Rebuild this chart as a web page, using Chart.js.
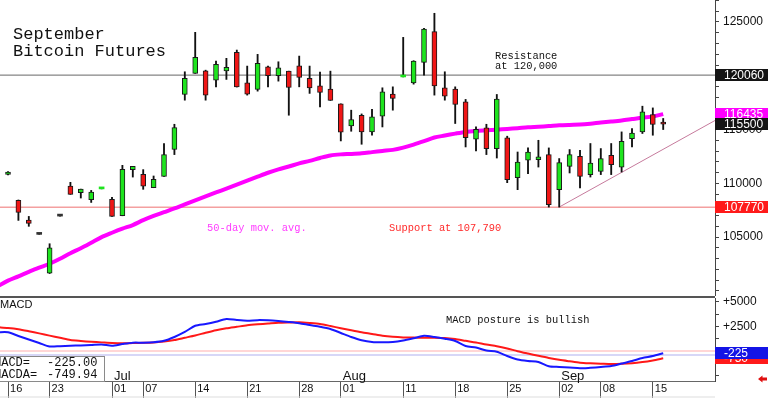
<!DOCTYPE html>
<html><head><meta charset="utf-8">
<script src="https://cdn.jsdelivr.net/npm/chart.js@4/dist/chart.umd.min.js"></script>
<style>
html,body{margin:0;padding:0;background:#fff;width:768px;height:398px;overflow:hidden;}
#c1{position:absolute;left:0;top:0;}
#c2{position:absolute;left:0;top:296px;}
</style></head><body>
<canvas id="c1" width="768" height="296"></canvas>
<canvas id="c2" width="768" height="102"></canvas>
<script>
// ---------- DATA ----------
const dates = ['Jun 13',
 'Jun 16','Jun 17','Jun 18','Jun 20','Jun 23','Jun 24','Jun 25','Jun 26','Jun 27','Jun 30',
 'Jul 01','Jul 02','Jul 03','Jul 07','Jul 08','Jul 09','Jul 10','Jul 11','Jul 14','Jul 15',
 'Jul 16','Jul 17','Jul 18','Jul 21','Jul 22','Jul 23','Jul 24','Jul 25','Jul 28','Jul 29',
 'Jul 30','Jul 31','Aug 01','Aug 04','Aug 05','Aug 06','Aug 07','Aug 08','Aug 11','Aug 12',
 'Aug 13','Aug 14','Aug 15','Aug 18','Aug 19','Aug 20','Aug 21','Aug 22','Aug 25','Aug 26',
 'Aug 27','Aug 28','Aug 29','Sep 02','Sep 03','Sep 04','Sep 05','Sep 08','Sep 09','Sep 10',
 'Sep 11','Sep 12','Sep 15','Sep 16'];
const futureDates = ['Sep 17','Sep 18','Sep 19','Sep 22','Sep 23'];

const opens = [null,
 110830,108410,106590,105250,101640,106950,109740,109130,108480,109480,
 108500,106980,111270,110830,109590,110650,113140,118260,120220,120460,
 119590,120460,122180,119340,118730,120830,120000,120430,120930,119750,
 119060,118760,117390,115340,116330,114780,116240,118290,119890,119340,
 121240,124100,118880,118760,117570,114100,115150,113230,114220,110530,
 112140,112200,112670,109410,111580,112510,110810,111110,112600,111510,
 114160,114780,116400,115700];
const highs = [null,
 111100,108450,106920,105250,104380,106950,110090,109460,109340,109510,
 108690,111670,111580,111270,110680,113700,115490,120370,124040,120520,
 121370,121620,122390,120900,121990,120900,121300,120430,121830,120900,
 120340,120430,117390,116800,116450,116890,118880,118970,123570,121400,
 124410,125810,120370,118970,117800,115240,115490,118260,114380,112910,
 113290,114000,113290,112300,113140,113070,113700,113230,113700,114780,
 115090,117170,117010,116030];
const lows = [null,
 110780,106550,106000,105250,101610,106950,108970,108630,108220,109480,
 106920,106980,110580,109440,109590,110650,112670,117730,120220,117730,
 118970,119660,118950,118200,118570,118970,119500,116330,118970,118360,
 117110,117700,113940,114840,113630,114470,115240,116800,119890,119220,
 120060,118200,117730,115560,113380,113000,112670,112350,110060,109410,
 110900,111510,107790,107790,110960,109560,110580,110810,110810,111050,
 113380,114630,114470,115000];
const closes = [null,
 111050,107290,106270,105250,104000,106950,108970,109460,109180,109510,
 106920,111300,111580,109740,110370,112670,115190,119750,121710,118200,
 121060,120780,118970,118290,121150,120000,120740,118910,119850,118880,
 118450,117700,114750,115930,114780,116170,118500,117890,119910,121370,
 124350,119060,118100,117330,114250,115030,113230,117820,110340,111980,
 112910,112450,108010,111920,112670,110650,111890,112300,111740,113910,
 114680,116640,115470,115500];
const ma50 = [
 100420,100950,101350,101770,102150,102520,102980,103500,103960,104470,
 104990,105400,105780,106120,106570,106960,107310,107660,108040,108410,
 108780,109150,109510,109880,110250,110620,110980,111290,111560,111850,
 112080,112350,112590,112690,112730,112790,112900,113010,113110,113320,
 113600,113920,114260,114440,114620,114780,114870,114930,114990,115060,
 115130,115210,115260,115320,115390,115430,115460,115540,115650,115740,
 115840,115970,116100,116200,116435];
const macd = [
 1910,1910,1530,1170,820,460,490,530,570,610,
 660,540,710,850,850,890,1040,1430,1940,2580,
 2760,2990,3270,3160,3090,3150,3130,3060,2960,2840,
 2650,2480,2250,1840,1430,1100,920,890,920,1070,
 1300,1550,1430,1250,1020,510,350,50,-70,-510,
 -860,-1020,-1120,-1560,-1630,-1690,-1770,-1710,-1630,-1530,
 -1280,-1020,-710,-510,-225.00];
const macdAvg = [
 2430,2350,2220,2020,1800,1570,1350,1120,1020,940,
 880,820,790,810,830,870,970,1120,1350,1580,
 1860,2120,2320,2470,2620,2720,2800,2880,2910,2930,
 2860,2760,2550,2320,2110,1910,1740,1560,1450,1390,
 1370,1360,1360,1330,1220,1040,870,660,490,260,
 -20,-260,-490,-710,-900,-1050,-1190,-1250,-1290,-1330,
 -1310,-1250,-1130,-960,-749.94];

const resistanceLevel = 120060;
const supportLevel = 107770;
const trendDates = ['Sep 02','Sep 23'];
const trendValues = [107790, 115850];
const macdZeroLevel = 0;
const macdGuideLevel = -410;

const priceAxisTicks = [];
for (let v = 100000; v <= 127000; v += 1000) priceAxisTicks.push(v);
const priceTickLabels = [105000,110000,115000,120000,125000];
const macdAxisTicks = [5000,3750,2500,1250,0,-1250,-2500];
const macdTickLabels = {5000:'+5000', 2500:'+2500'};
const dayTickDates = ['Jun 16','Jun 23','Jul 01','Jul 07','Jul 14','Jul 21','Jul 28','Aug 01','Aug 11','Aug 18','Aug 25','Sep 02','Sep 08','Sep 15'];
const dayTickLabels = ['16','23','01','07','14','21','28','01','11','18','25','02','08','15'];
const monthDates = ['Jul 01','Aug 01','Sep 02'];
const monthLabels = ['Jul','Aug','Sep'];

const titleLines = ['September','Bitcoin Futures'];
const resistanceNote = ['Resistance','at 120,000'];
const maNote = '50-day mov. avg.';
const supportNote = 'Support at 107,790';
const postureNote = 'MACD posture is bullish';

// ---------- BUILD ----------
const allDates = dates.concat(futureDates);
const idx = d => allDates.indexOf(d);
const X_MIN = 0.23, X_MAX = 68.98;
const P_MIN = 99520, P_MAX = 127045;
const M_MIN = -3061, M_MAX = 5408;

const UP = '#1ee41e', DOWN = '#f01616', FLAT = '#333333';
const bodyData = [], wickData = [];
dates.forEach((d, j) => {
  if (opens[j] == null) return;
  bodyData.push({x: j, y: [opens[j], closes[j]]});
  wickData.push({x: j, y: [lows[j], highs[j]]});
});
const maData = ma50.map((v, j) => ({x: j, y: v}));
const trendData = trendDates.map((d, k) => ({x: idx(d), y: trendValues[k]}));
const hline = v => [{x: X_MIN, y: v}, {x: X_MAX + 1, y: v}];
const macdData = macd.map((v, j) => ({x: j, y: v}));
const avgData = macdAvg.map((v, j) => ({x: j, y: v}));

const lastClose = closes[closes.length - 1];
const lastMA = ma50[ma50.length - 1];
const lastMacd = macd[macd.length - 1];
const lastAvg = macdAvg[macdAvg.length - 1];

Chart.defaults.font.family = '"Liberation Sans", Arial, sans-serif';

function flag(ctx, x0, w, py, txt, bg) {
  const yy = Math.round(py);
  ctx.fillStyle = bg;
  ctx.fillRect(x0, yy - 6, w, 12);
  ctx.fillStyle = '#fff';
  ctx.font = '12px "Liberation Sans"';
  ctx.textAlign = 'left';
  ctx.textBaseline = 'middle';
  ctx.fillText(txt, x0 + 9, yy + 0.5);
}

const topDecor = {
  id: 'topDecor',
  afterDraw(chart) {
    const {ctx, chartArea: ca} = chart;
    const y = chart.scales.y;
    ctx.save();
    ctx.textAlign = 'left';
    ctx.textBaseline = 'alphabetic';
    ctx.fillStyle = '#111';
    ctx.font = '17px "Liberation Mono"';
    ctx.fillText(titleLines[0], 13, 38.5);
    ctx.fillText(titleLines[1], 13, 56);
    ctx.font = '10.4px "Liberation Mono"';
    ctx.fillText(resistanceNote[0], 495, 58.5);
    ctx.fillText(resistanceNote[1], 495, 68.5);
    ctx.fillStyle = '#ff3cff';
    ctx.fillText(maNote, 207, 230.5);
    ctx.fillStyle = '#ff2a2a';
    ctx.fillText(supportNote, 389, 230.5);
    const w = chart.width - ca.right;
    flag(ctx, ca.right, w, y.getPixelForValue(resistanceLevel), String(resistanceLevel), '#141414');
    flag(ctx, ca.right, w, y.getPixelForValue(lastMA), String(lastMA), '#ff00ff');
    flag(ctx, ca.right, w, y.getPixelForValue(lastClose), String(lastClose), '#141414');
    flag(ctx, ca.right, w, y.getPixelForValue(supportLevel), String(supportLevel), '#ff1a1a');
    ctx.restore();
  }
};

new Chart(document.getElementById('c1'), {
  type: 'line',
  data: { datasets: [
    { type: 'bar', label: 'Body', data: bodyData, stack: 'candle', barThickness: 5, minBarLength: 2,
      borderSkipped: false, borderColor: '#1a1a1a',
      backgroundColor: c => { const v = c.raw.y; return v[1] > v[0] ? UP : (v[1] < v[0] ? DOWN : FLAT); },
      borderWidth: c => Math.abs(c.raw.y[1] - c.raw.y[0]) < 100 ? 0 : 1,
      order: 1 },
    { type: 'bar', label: 'Wick', data: wickData, stack: 'candle', barThickness: 1.2,
      backgroundColor: '#111', borderWidth: 0, order: 2 },
    { type: 'line', label: '50-day', data: maData, borderColor: '#ff00ff', borderWidth: 4,
      pointRadius: 0, tension: 0.3, order: 3 },
    { type: 'line', label: 'Trend', data: trendData, borderColor: '#c67a9c', borderWidth: 1,
      pointRadius: 0, order: 4 },
    { type: 'line', label: 'Resistance', data: hline(resistanceLevel), borderColor: '#666', borderWidth: 1,
      pointRadius: 0, order: 5 },
    { type: 'line', label: 'Support', data: hline(supportLevel), borderColor: '#f4a0a0', borderWidth: 1.5,
      pointRadius: 0, order: 6 }
  ]},
  options: {
    responsive: false, animation: false, devicePixelRatio: 1,
    layout: { padding: 0, autoPadding: false },
    plugins: { legend: { display: false }, tooltip: { enabled: false } },
    scales: {
      x: { type: 'linear', min: X_MIN, max: X_MAX, offset: false, display: false },
      y: { type: 'linear', position: 'right', min: P_MIN, max: P_MAX, stacked: false,
        afterBuildTicks: s => { s.ticks = priceAxisTicks.map(v => ({ value: v })); },
        afterFit: s => { s.width = 53; s.paddingTop = 0; s.paddingBottom = 0; },
        grid: { drawOnChartArea: false, drawTicks: true, tickLength: 4, color: '#444' },
        border: { display: true, color: '#444' },
        ticks: { autoSkip: false, padding: 4, color: '#111',
          font: { size: 12 }, callback: v => priceTickLabels.includes(v) ? String(v) : '' }
      }
    }
  },
  plugins: [topDecor]
});

const macdDecor = {
  id: 'macdDecor',
  afterDraw(chart) {
    const {ctx, chartArea: ca} = chart;
    const x = chart.scales.x, y = chart.scales.y;
    ctx.save();
    ctx.fillStyle = '#555';
    ctx.fillRect(0, 0, ca.right, 2);
    ctx.fillStyle = '#111';
    ctx.textAlign = 'left';
    ctx.textBaseline = 'middle';
    ctx.font = '11px "Liberation Sans"';
    ctx.fillText('MACD', 0, 9);
    ctx.font = '10.4px "Liberation Mono"';
    ctx.textBaseline = 'alphabetic';
    ctx.fillText(postureNote, 446, 27);
    ctx.font = '13px "Liberation Sans"';
    ctx.textBaseline = 'middle';
    monthDates.forEach((d, k) => ctx.fillText(monthLabels[k], x.getPixelForValue(idx(d)) + 2, 80.5));
    // legend box
    ctx.fillStyle = '#fff';
    ctx.fillRect(-1, 60.5, 105.5, 24.5);
    ctx.strokeStyle = '#8a8a8a';
    ctx.lineWidth = 1;
    ctx.strokeRect(-0.5, 60.5, 105, 25);
    ctx.fillStyle = '#111';
    ctx.font = '12px "Liberation Mono"';
    ctx.fillText('MACD=', -6, 67);
    ctx.fillText(lastMacd.toFixed(2), 47, 67);
    ctx.fillText('MACDA=', -6, 79);
    ctx.fillText(lastAvg.toFixed(2), 47, 79);
    // right flags
    const w = chart.width - ca.right;
    flag(ctx, ca.right, w, y.getPixelForValue(lastAvg), String(Math.round(lastAvg)), '#ff1a1a');
    flag(ctx, ca.right, w, y.getPixelForValue(lastMacd), String(Math.round(lastMacd)), '#1414e6');
    // bottom line
    ctx.fillStyle = '#dddddd';
    ctx.fillRect(0, 100.5, ca.right, 1);
    // red arrow
    ctx.fillStyle = '#e01010';
    ctx.beginPath();
    ctx.moveTo(758, 83);
    ctx.lineTo(762.5, 79.5);
    ctx.lineTo(762.5, 81.5);
    ctx.lineTo(767, 81.5);
    ctx.lineTo(767, 84.5);
    ctx.lineTo(762.5, 84.5);
    ctx.lineTo(762.5, 86.5);
    ctx.closePath();
    ctx.fill();
    ctx.restore();
  }
};

new Chart(document.getElementById('c2'), {
  type: 'line',
  data: { datasets: [
    { label: 'MACD', data: macdData, borderColor: '#1818ff', borderWidth: 2, pointRadius: 0, tension: 0.25, order: 1 },
    { label: 'MACDA', data: avgData, borderColor: '#ff1818', borderWidth: 2, pointRadius: 0, tension: 0.25, order: 2 },
    { label: 'Zero', data: hline(macdZeroLevel), borderColor: '#ffc8c8', borderWidth: 1.5, pointRadius: 0, order: 3 },
    { label: 'Guide', data: hline(macdGuideLevel), borderColor: '#cacaf4', borderWidth: 1.5, pointRadius: 0, order: 4 }
  ]},
  options: {
    responsive: false, animation: false, devicePixelRatio: 1,
    layout: { padding: { top: 2, left: 0, right: 0, bottom: 0 }, autoPadding: false },
    plugins: { legend: { display: false }, tooltip: { enabled: false } },
    scales: {
      x: { type: 'linear', min: X_MIN, max: X_MAX, offset: false, position: 'bottom',
        afterBuildTicks: s => { s.ticks = dayTickDates.map(d => ({ value: idx(d) })); },
        afterFit: s => { s.height = 17; s.paddingLeft = 0; s.paddingRight = 0; },
        grid: { display: true, drawOnChartArea: false, drawTicks: true, tickLength: 17, color: '#555', offset: false },
        border: { display: true, color: '#666' },
        ticks: { autoSkip: false, maxRotation: 0, minRotation: 0, align: 'start', labelOffset: 2, padding: -15.5,
          color: '#111', font: { size: 11 }, callback: (v, i) => dayTickLabels[i] }
      },
      y: { type: 'linear', position: 'right', min: M_MIN, max: M_MAX,
        afterBuildTicks: s => { s.ticks = macdAxisTicks.map(v => ({ value: v })); },
        afterFit: s => { s.width = 53; s.paddingTop = 0; s.paddingBottom = 0; },
        grid: { drawOnChartArea: false, drawTicks: true, tickLength: 4, color: '#444' },
        border: { display: true, color: '#444' },
        ticks: { autoSkip: false, padding: 4, color: '#111', font: { size: 12 },
          callback: v => macdTickLabels[v] || '' }
      }
    }
  },
  plugins: [macdDecor]
});
</script>
</body></html>
